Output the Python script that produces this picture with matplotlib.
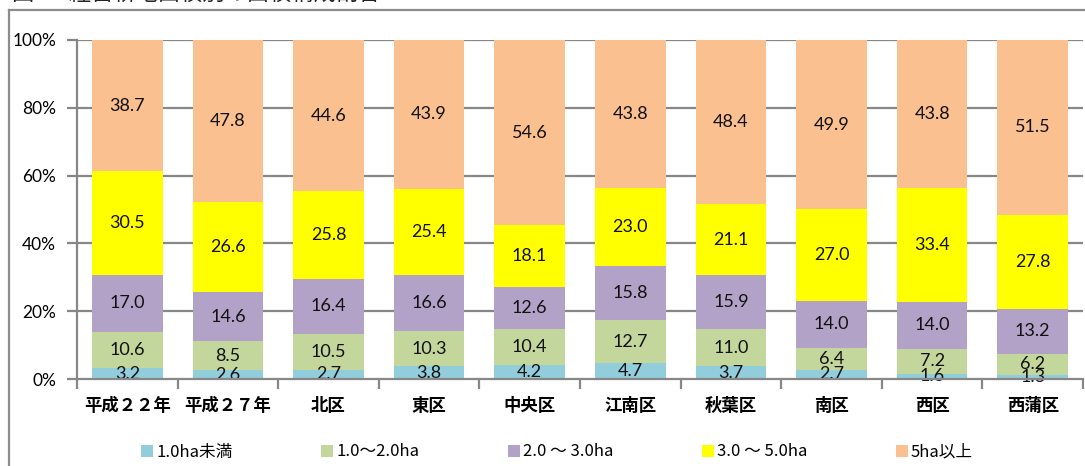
import matplotlib
matplotlib.use("Agg")
import matplotlib.pyplot as plt
from matplotlib.patches import Patch
from matplotlib.lines import Line2D
import numpy as np

plt.rcParams['font.family'] = ['Noto Sans CJK JP', 'DejaVu Sans']

categories = ['平成２２年', '平成２７年', '北区', '東区', '中央区', '江南区', '秋葉区', '南区', '西区', '西蒲区']
series_names = ['1.0ha未満', '1.0〜2.0ha', '2.0 〜 3.0ha', '3.0 〜 5.0ha', '5ha以上']
lt1 = [3.2, 2.6, 2.7, 3.8, 4.2, 4.7, 3.7, 2.7, 1.6, 1.3]
s1_2 = [10.6, 8.5, 10.5, 10.3, 10.4, 12.7, 11.0, 6.4, 7.2, 6.2]
s2_3 = [17.0, 14.6, 16.4, 16.6, 12.6, 15.8, 15.9, 14.0, 14.0, 13.2]
s3_5 = [30.5, 26.6, 25.8, 25.4, 18.1, 23.0, 21.1, 27.0, 33.4, 27.8]
ge5 = [38.7, 47.8, 44.6, 43.9, 54.6, 43.8, 48.4, 49.9, 43.8, 51.5]
colors = ['#92CDDC', '#C3D69B', '#B2A2C7', '#FFFF00', '#FAC090']
yticks = [0, 20, 40, 60, 80, 100]
ytick_labels = ['0%', '20%', '40%', '60%', '80%', '100%']

data = np.array([lt1, s1_2, s2_3, s3_5, ge5])
totals = data.sum(axis=0)
pct = data / totals * 100

fig = plt.figure(figsize=(10.85, 4.66), dpi=100)
W, H = 1085, 466
ax = fig.add_axes([77 / W, 1 - 379 / H, (1083 - 77) / W, (379 - 40) / H])

grid_color = '#878787'
x = np.arange(len(categories))
bottom = np.zeros(len(categories))
for i in range(len(series_names)):
    ax.bar(x, pct[i], bottom=bottom, width=0.70, color=colors[i], zorder=2, linewidth=0)
    for j in range(len(categories)):
        ax.text(x[j], bottom[j] + pct[i][j] / 2, f'{data[i][j]:.1f}', ha='center', va='center',
                fontsize=13, family=['Lato', 'DejaVu Sans'], color='#111111', zorder=3)
    bottom += pct[i]

ax.set_xlim(-0.5, len(categories) - 0.5)
ax.set_ylim(0, 100)
ax.set_yticks(yticks)
ax.set_yticklabels(ytick_labels, family=['Lato', 'DejaVu Sans'], fontsize=12.5)
for yv in yticks[1:]:
    ax.axhline(yv, color=grid_color, linewidth=1.6, zorder=1)

ax.set_xticks(x)
ax.set_xticklabels(categories, fontsize=12.5, fontweight='bold')
ax.set_xticks(np.arange(-0.5, len(categories) + 0.5, 1), minor=True)
ax.tick_params(axis='x', which='major', length=0, pad=13)
ax.tick_params(axis='x', which='minor', length=7, width=1.6, color=grid_color, direction='out')
ax.tick_params(axis='y', length=7, width=1.6, color=grid_color, direction='out', pad=8)

for s in ['top', 'right']:
    ax.spines[s].set_visible(False)
for s in ['left', 'bottom']:
    ax.spines[s].set_color(grid_color)
    ax.spines[s].set_linewidth(1.6)
    ax.spines[s].set_zorder(4)

# chart area border
fig.add_artist(Line2D([8.5 / W, 8.5 / W], [0, 1 - 10 / H], color='#8c8c8c', linewidth=1.6))
fig.add_artist(Line2D([8.5 / W, 1], [1 - 10 / H, 1 - 10 / H], color='#8c8c8c', linewidth=1.6))

# cut-off title (partly outside the picture, as in the reference)
fig.text(12 / W, 1 - 6 / H, '図3　経営耕地面積別の面積構成割合', fontsize=16, ha='left', va='bottom', color='#222222')

handles = [Patch(facecolor=c, edgecolor='none') for c in colors]
fig.legend(handles, series_names, loc='center left', bbox_to_anchor=(141 / W, 1 - 452 / H), ncol=5,
           frameon=False, fontsize=12, handlelength=0.72, handleheight=0.72, handletextpad=0.2,
           columnspacing=5.3, borderpad=0, borderaxespad=0)

fig.savefig('out.png', dpi=100)
